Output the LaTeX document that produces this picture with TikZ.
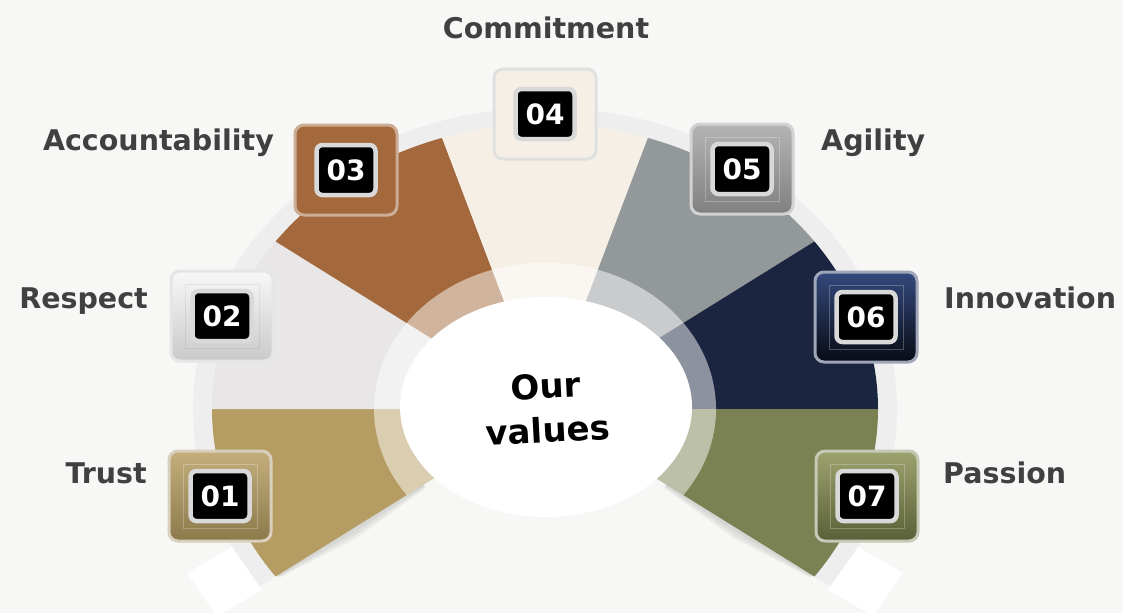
\documentclass[tikz,border=0pt]{standalone}
\usepackage{fontspec}
\setmainfont{DejaVu Sans}
\usetikzlibrary{shapes.geometric,calc}
\definecolor{bg}{HTML}{F7F7F5}
\definecolor{ringgray}{HTML}{EEEEEE}
\definecolor{ctrust}{HTML}{B59C62}
\definecolor{crespect}{HTML}{E8E6E7}
\definecolor{cacc}{HTML}{A3693C}
\definecolor{ccom}{HTML}{F6EFE6}
\definecolor{cagi}{HTML}{93989B}
\definecolor{cinn}{HTML}{1B2540}
\definecolor{cpas}{HTML}{7A8253}
\definecolor{labelgray}{HTML}{404040}
\definecolor{numgray}{HTML}{D9D9D9}
\definecolor{shadowgray}{HTML}{9A9A9A}
\definecolor{tTop}{HTML}{C4AE7C}\definecolor{tBot}{HTML}{8C7A4B}\definecolor{tRim}{HTML}{D8CFBC}
\definecolor{gTop}{HTML}{B4B4B4}\definecolor{gBot}{HTML}{808080}\definecolor{gRim}{HTML}{D2D2D2}
\definecolor{nTop}{HTML}{34497C}\definecolor{nBot}{HTML}{070B15}\definecolor{nRim}{HTML}{9EA6B8}
\definecolor{oTop}{HTML}{9DA36E}\definecolor{oBot}{HTML}{5A5F38}\definecolor{oRim}{HTML}{C6C9B6}
\begin{document}
\begin{tikzpicture}[x=1pt,y=-1pt,
  lbl/.style={font=\fontsize{28.5}{34}\selectfont\bfseries, text=labelgray, inner sep=0pt},
  badge/.style={rounded corners=9pt, minimum width=102pt, minimum height=90pt, line width=3pt, inner sep=0pt},
  numbox/.style={fill=black, draw=numgray, line width=4.5pt, rounded corners=6pt, minimum width=59pt, minimum height=50pt, inner sep=0pt, text=white, font=\fontsize{28}{30}\selectfont\bfseries},
  framebox/.style={draw=white, draw opacity=0.25, line width=0.8pt, minimum width=74pt, minimum height=64pt, inner sep=0pt},
  shadowlayer/.style={fill=shadowgray, fill opacity=0.13}
]
\fill[bg] (0,0) rectangle (1123,613);
\useasboundingbox (0,0) rectangle (1123,613);

% outer gray ring
\begin{scope}[shift={(545,409)}, x=1pt, y=0.856pt]
  \fill[ringgray] (0,0) -- (-36:352) arc[start angle=-36, end angle=216, radius=352] -- cycle;
\end{scope}

% white end pieces
\fill[white] (187,573) -- (232,547) -- (262,590) -- (217,616) -- cycle;
\fill[white] (903,573) -- (858,547) -- (828,590) -- (873,616) -- cycle;

% shadows along lower edges
\coordinate (tA) at (423.6,484.5);
\coordinate (tB) at (278.0,575.0);
\coordinate (tM) at (350.8,529.7);
\coordinate (pA) at (666.4,484.5);
\coordinate (pB) at (812.0,575.0);
\coordinate (pM) at (739.2,529.7);
\foreach \w in {4,7,10}{
  \fill[shadowlayer] (tA) -- (tB) -- ($(tB)+(0.3*\w*0.528,0.3*\w*0.849)$) -- ($(tM)+(\w*0.528,\w*0.849)$) -- ($(tA)+(0.4*\w*0.528,0.4*\w*0.849)$) -- cycle;
  \fill[shadowlayer] (pA) -- (pB) -- ($(pB)+(-0.3*\w*0.528,0.3*\w*0.849)$) -- ($(pM)+(-\w*0.528,\w*0.849)$) -- ($(pA)+(-0.4*\w*0.528,0.4*\w*0.849)$) -- cycle;
}

% sectors
\begin{scope}[shift={(545,409)}, x=1pt, y=0.856pt]
  \fill[ctrust]   (0,0) -- (180:333) arc[start angle=180, end angle=216, radius=333] -- cycle;
  \fill[crespect] (0,0) -- (144:333) arc[start angle=144, end angle=180, radius=333] -- cycle;
  \fill[cacc]     (0,0) -- (108:333) arc[start angle=108, end angle=144, radius=333] -- cycle;
  \fill[ccom]     (0,0) -- (72:333)  arc[start angle=72,  end angle=108, radius=333] -- cycle;
  \fill[cagi]     (0,0) -- (36:333)  arc[start angle=36,  end angle=72,  radius=333] -- cycle;
  \fill[cinn]     (0,0) -- (0:333)   arc[start angle=0,   end angle=36,  radius=333] -- cycle;
  \fill[cpas]     (0,0) -- (-36:333) arc[start angle=-36, end angle=0,   radius=333] -- cycle;
  % translucent inner ring
  \fill[white, opacity=0.5] (0,0) -- (-36:171) arc[start angle=-36, end angle=216, radius=171] -- cycle;
\end{scope}

% centre ellipse
\node[ellipse, fill=white, minimum width=292pt, minimum height=220pt, inner sep=0pt] (hub) at (546,407) {};
\node[font=\fontsize{34}{44}\selectfont\bfseries, align=center, rotate=3, inner sep=0pt] (title) at (547,408) {Our\\values};

% labels
\node[lbl, anchor=base] (lcom) at (546,38.5) {Commitment};
\node[lbl, anchor=base east] (lacc) at (274,150) {Accountability};
\node[lbl, anchor=base west] (lagi) at (821,150) {Agility};
\node[lbl, anchor=base east] (lres) at (148,308) {Respect};
\node[lbl, anchor=base west] (linn) at (944,308) {Innovation};
\node[lbl, anchor=base east] (ltru) at (147,483) {Trust};
\node[lbl, anchor=base west] (lpas) at (943,483) {Passion};

% badges
\node[badge, top color=tTop, bottom color=tBot, draw=tRim] (b1) at (220,496) {};
\node[framebox] (f1) at (b1) {};
\node[numbox] (n1) at (b1) {01};

\node[badge, top color=white!97!black, bottom color=white!79!black, draw=white!90!black] (b2) at (222,316) {};
\node[framebox, draw=black, draw opacity=0.06] (f2) at (b2) {};
\node[numbox] (n2) at (b2) {02};

\node[badge, fill=cacc, draw=white!45!cacc] (b3) at (346,170) {};
\node[numbox] (n3) at (b3) {03};

\node[badge, fill=ccom, draw=white!88!black] (b4) at (545,114) {};
\node[numbox] (n4) at (b4) {04};

\node[badge, top color=gTop, bottom color=gBot, draw=gRim] (b5) at (742,169) {};
\node[framebox] (f5) at (b5) {};
\node[numbox] (n5) at (b5) {05};

\node[badge, top color=nTop, bottom color=nBot, draw=nRim] (b6) at (866,317) {};
\node[framebox] (f6) at (b6) {};
\node[numbox] (n6) at (b6) {06};

\node[badge, top color=oTop, bottom color=oBot, draw=oRim] (b7) at (867,496) {};
\node[framebox] (f7) at (b7) {};
\node[numbox] (n7) at (b7) {07};
\end{tikzpicture}
\end{document}
